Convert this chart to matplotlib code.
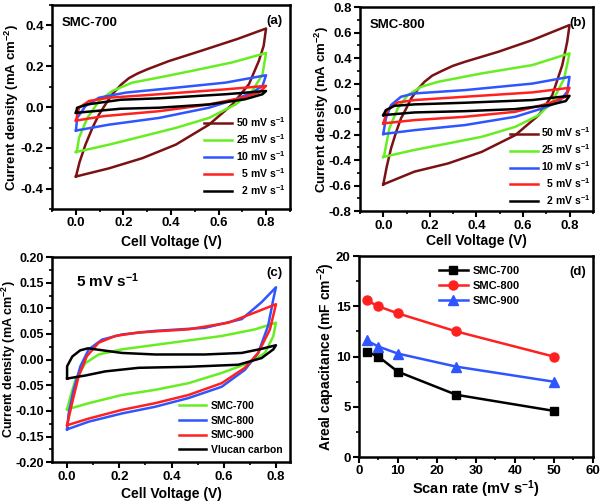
import matplotlib
matplotlib.use("Agg")
import matplotlib.pyplot as plt
from matplotlib.ticker import MultipleLocator, FormatStrFormatter

#%% Data
# (a) SMC-700, CV loops at different scan rates (V, mA cm-2)
a50_v = [0.0, 0.015, 0.04, 0.07, 0.097, 0.125, 0.153, 0.19, 0.223, 0.26, 0.30, 0.39, 0.53, 0.68, 0.80,
         0.79, 0.77, 0.728, 0.658, 0.56, 0.42, 0.28, 0.139, 0.0]
a50_i = [-0.34, -0.27, -0.184, -0.10, -0.036, 0.015, 0.063, 0.11, 0.142, 0.165, 0.185, 0.225, 0.277, 0.334, 0.385,
         0.30, 0.227, 0.112, 0.013, -0.086, -0.184, -0.25, -0.30, -0.34]
a25_v = [0.0, 0.005, 0.013, 0.048, 0.097, 0.153, 0.237, 0.35, 0.49, 0.658, 0.80, 0.785, 0.742, 0.672, 0.56, 0.42, 0.28, 0.139, 0.0]
a25_i = [-0.22, -0.21, -0.15, -0.053, 0.03, 0.079, 0.12, 0.145, 0.178, 0.219, 0.265, 0.16, 0.079, 0.013, -0.053, -0.102, -0.143, -0.184, -0.22]
a10_v = [0.0, 0.005, 0.04, 0.097, 0.21, 0.42, 0.63, 0.80, 0.785, 0.742, 0.672, 0.56, 0.35, 0.139, 0.0]
a10_i = [-0.115, -0.053, 0.005, 0.046, 0.071, 0.095, 0.12, 0.156, 0.104, 0.071, 0.038, -0.003, -0.053, -0.086, -0.115]
a5_v = [0.0, 0.013, 0.055, 0.139, 0.35, 0.63, 0.80, 0.77, 0.70, 0.56, 0.35, 0.118, 0.0]
a5_i = [-0.066, -0.003, 0.03, 0.046, 0.063, 0.087, 0.104, 0.071, 0.046, 0.013, -0.02, -0.044, -0.066]
a2_v = [0.0, 0.005, 0.048, 0.188, 0.35, 0.63, 0.80, 0.785, 0.71, 0.56, 0.35, 0.188, 0.0]
a2_i = [-0.028, -0.003, 0.013, 0.036, 0.043, 0.063, 0.079, 0.063, 0.038, 0.013, -0.003, -0.008, -0.028]

# (b) SMC-800
b50_v = [0.0, 0.015, 0.033, 0.055, 0.076, 0.10, 0.12, 0.15, 0.177, 0.21, 0.25, 0.30, 0.351, 0.495, 0.64, 0.80,
         0.79, 0.769, 0.726, 0.668, 0.567, 0.423, 0.278, 0.134, 0.0]
b50_i = [-0.59, -0.45, -0.31, -0.18, -0.073, 0.01, 0.084, 0.16, 0.214, 0.262, 0.298, 0.34, 0.371, 0.45, 0.541, 0.659,
         0.528, 0.345, 0.11, -0.047, -0.204, -0.335, -0.426, -0.49, -0.59]
b25_v = [0.0, 0.004, 0.026, 0.062, 0.105, 0.163, 0.235, 0.423, 0.64, 0.80, 0.777, 0.726, 0.668, 0.567, 0.423, 0.278, 0.134, 0.0]
b25_i = [-0.375, -0.36, -0.151, 0.005, 0.11, 0.175, 0.214, 0.28, 0.345, 0.437, 0.24, 0.057, -0.047, -0.139, -0.217, -0.269, -0.32, -0.375]
b10_v = [0.0, 0.011, 0.033, 0.076, 0.134, 0.351, 0.64, 0.80, 0.79, 0.755, 0.682, 0.567, 0.351, 0.134, 0.0]
b10_i = [-0.195, -0.073, 0.031, 0.097, 0.123, 0.149, 0.2, 0.253, 0.136, 0.057, 0.005, -0.06, -0.125, -0.165, -0.195]
b5_v = [0.0, 0.018, 0.062, 0.134, 0.351, 0.64, 0.80, 0.784, 0.711, 0.567, 0.351, 0.134, 0.0]
b5_i = [-0.112, -0.008, 0.052, 0.071, 0.097, 0.131, 0.167, 0.097, 0.045, -0.021, -0.06, -0.086, -0.112]
b2_v = [0.0, 0.011, 0.048, 0.134, 0.351, 0.64, 0.80, 0.784, 0.711, 0.567, 0.351, 0.134, 0.0]
b2_i = [-0.047, -0.008, 0.026, 0.037, 0.05, 0.071, 0.104, 0.063, 0.031, 0.0, -0.016, -0.026, -0.047]

# (c) 5 mV s-1 comparison
c700_v = [0.0, 0.013, 0.032, 0.07, 0.121, 0.21, 0.401, 0.592, 0.72, 0.80, 0.79, 0.758, 0.694, 0.592, 0.465, 0.337, 0.21, 0.083, 0.0]
c700_i = [-0.097, -0.072, -0.039, -0.007, 0.01, 0.02, 0.033, 0.046, 0.059, 0.072, 0.046, 0.013, -0.007, -0.026, -0.046, -0.059, -0.069, -0.085, -0.097]
c800_v = [0.0, 0.006, 0.025, 0.051, 0.083, 0.134, 0.21, 0.337, 0.528, 0.669, 0.745, 0.80, 0.79, 0.77, 0.732, 0.681, 0.592, 0.465, 0.337, 0.21, 0.083, 0.0]
c800_i = [-0.136, -0.105, -0.059, -0.013, 0.02, 0.039, 0.049, 0.056, 0.062, 0.079, 0.112, 0.141, 0.118, 0.066, 0.013, -0.02, -0.053, -0.075, -0.092, -0.105, -0.121, -0.136]
c900_v = [0.0, 0.019, 0.044, 0.076, 0.121, 0.184, 0.274, 0.465, 0.618, 0.72, 0.80, 0.777, 0.732, 0.681, 0.592, 0.465, 0.337, 0.21, 0.083, 0.0]
c900_i = [-0.128, -0.085, -0.033, 0.007, 0.033, 0.046, 0.053, 0.059, 0.072, 0.092, 0.108, 0.059, 0.013, -0.016, -0.046, -0.069, -0.085, -0.098, -0.115, -0.128]
cvx_v = [0.0, 0.0, 0.02, 0.05, 0.08, 0.21, 0.337, 0.528, 0.669, 0.745, 0.80, 0.79, 0.745, 0.656, 0.465, 0.274, 0.146, 0.07, 0.0]
cvx_i = [-0.037, -0.013, 0.006, 0.018, 0.022, 0.013, 0.01, 0.01, 0.013, 0.021, 0.028, 0.02, 0.003, -0.01, -0.014, -0.016, -0.023, -0.031, -0.037]

# (d) areal capacitance vs scan rate
scan_rate = [2, 5, 10, 25, 50]
cap_700 = [10.5, 10.0, 8.5, 6.2, 4.6]
cap_800 = [15.6, 15.0, 14.3, 12.5, 10.0]
cap_900 = [11.6, 11.0, 10.3, 9.0, 7.5]

rate_labels = ['50 mV s$^{-1}$', '25 mV s$^{-1}$', '10 mV s$^{-1}$', '  5 mV s$^{-1}$', '  2 mV s$^{-1}$']
colors = ['#7a1214', '#66ee22', '#2f55ff', '#ff2020', '#000000']

#%% Style
plt.rcParams['font.family'] = ['Liberation Sans', 'DejaVu Sans']
plt.rcParams['font.weight'] = 'bold'
plt.rcParams['axes.labelweight'] = 'bold'
plt.rcParams['mathtext.fontset'] = 'custom'
plt.rcParams['mathtext.rm'] = 'Liberation Sans:bold'
plt.rcParams['mathtext.it'] = 'Liberation Sans:bold'
plt.rcParams['mathtext.bf'] = 'Liberation Sans:bold'
plt.rcParams['mathtext.default'] = 'rm'
plt.rcParams['axes.linewidth'] = 1.8


def style_axis(ax, xmaj, xmin, ymaj, ymin, yfmt):
    ax.xaxis.set_major_locator(MultipleLocator(xmaj))
    ax.xaxis.set_minor_locator(MultipleLocator(xmin))
    ax.yaxis.set_major_locator(MultipleLocator(ymaj))
    ax.yaxis.set_minor_locator(MultipleLocator(ymin))
    ax.yaxis.set_major_formatter(FormatStrFormatter(yfmt))
    ax.tick_params(which='major', direction='out', length=4, width=1.5, labelsize=9.5, pad=2)
    ax.tick_params(which='minor', direction='out', length=2.5, width=1.2)


def rate_legend(ax, anchor):
    ax.legend(loc='lower right', bbox_to_anchor=anchor, frameon=False, fontsize=7.5,
              handlelength=2.7, labelspacing=0.3, borderaxespad=0, handletextpad=0.35)


fig = plt.figure(figsize=(6.0, 5.04), dpi=100)
ax_a = fig.add_axes([0.087, 0.585, 0.396, 0.405])
ax_b = fig.add_axes([0.600, 0.581, 0.388, 0.405])
ax_c = fig.add_axes([0.087, 0.083, 0.396, 0.407])
ax_d = fig.add_axes([0.598, 0.093, 0.390, 0.399])

#%% (a)
for v, i, c, lab in zip([a50_v, a25_v, a10_v, a5_v, a2_v], [a50_i, a25_i, a10_i, a5_i, a2_i], colors, rate_labels):
    ax_a.plot(v, i, color=c, lw=1.8, label=lab, solid_joinstyle='round')
ax_a.set_xlim(-0.1, 0.9)
ax_a.set_ylim(-0.5, 0.5)
style_axis(ax_a, 0.2, 0.1, 0.2, 0.1, '%.1f')
ax_a.set_xlabel('Cell Voltage (V)', fontsize=10, labelpad=4)
ax_a.set_ylabel('Current density (mA cm$^{-2}$)', fontsize=9.5)
ax_a.yaxis.set_label_coords(-0.13, 0.5)
ax_a.text(0.04, 0.94, 'SMC-700', transform=ax_a.transAxes, fontsize=9.5, va='top')
ax_a.text(0.97, 0.95, '(a)', transform=ax_a.transAxes, fontsize=9.5, va='top', ha='right')
rate_legend(ax_a, (1.0, 0.04))

#%% (b)
for v, i, c, lab in zip([b50_v, b25_v, b10_v, b5_v, b2_v], [b50_i, b25_i, b10_i, b5_i, b2_i], colors, rate_labels):
    ax_b.plot(v, i, color=c, lw=1.8, label=lab, solid_joinstyle='round')
ax_b.set_xlim(-0.1, 0.9)
ax_b.set_ylim(-0.8, 0.8)
style_axis(ax_b, 0.2, 0.1, 0.2, 0.1, '%.1f')
ax_b.set_xlabel('Cell Voltage (V)', fontsize=10, labelpad=2)
ax_b.set_ylabel('Current density (mA cm$^{-2}$)', fontsize=9.5)
ax_b.yaxis.set_label_coords(-0.125, 0.5)
ax_b.text(0.04, 0.94, 'SMC-800', transform=ax_b.transAxes, fontsize=9.5, va='top')
ax_b.text(0.97, 0.95, '(b)', transform=ax_b.transAxes, fontsize=9.5, va='top', ha='right')
rate_legend(ax_b, (1.01, 0.0))

#%% (c)
ax_c.plot(c700_v, c700_i, color='#66ee22', lw=1.8, label='SMC-700')
ax_c.plot(c800_v, c800_i, color='#2f55ff', lw=1.8, label='SMC-800')
ax_c.plot(c900_v, c900_i, color='#ff2020', lw=1.8, label='SMC-900')
ax_c.plot(cvx_v, cvx_i, color='#000000', lw=1.8, label='Vlucan carbon')
ax_c.set_xlim(-0.057, 0.853)
ax_c.set_ylim(-0.2, 0.2)
style_axis(ax_c, 0.2, 0.1, 0.05, 0.025, '%.2f')
ax_c.tick_params(axis='y', which='major', labelsize=9)
ax_c.set_xlabel('Cell Voltage (V)', fontsize=10, labelpad=3)
ax_c.set_ylabel('Current density (mA cm$^{-2}$)', fontsize=9)
ax_c.yaxis.set_label_coords(-0.145, 0.5)
ax_c.text(0.1, 0.93, '5 mV s$^{-1}$', transform=ax_c.transAxes, fontsize=11, va='top')
ax_c.text(0.97, 0.95, '(c)', transform=ax_c.transAxes, fontsize=9.5, va='top', ha='right')
ax_c.legend(loc='lower right', frameon=False, fontsize=7.5, handlelength=2.6,
            labelspacing=0.45, borderaxespad=0.3, handletextpad=0.5)

#%% (d)
ax_d.plot(scan_rate, cap_700, color='#000000', marker='s', ms=6, lw=1.8, label='SMC-700')
ax_d.plot(scan_rate, cap_800, color='#ff2020', marker='o', ms=6.5, lw=1.8, label='SMC-800')
ax_d.plot(scan_rate, cap_900, color='#2f55ff', marker='^', ms=6.5, lw=1.8, label='SMC-900')
ax_d.set_xlim(0, 60)
ax_d.set_ylim(0, 20)
style_axis(ax_d, 10, 5, 5, 2.5, '%d')
ax_d.set_xlabel('Scan rate (mV s$^{-1}$)', fontsize=10.5, labelpad=1)
ax_d.set_ylabel('Areal capacitance (mF cm$^{-2}$)', fontsize=10)
ax_d.yaxis.set_label_coords(-0.095, 0.5)
ax_d.text(0.97, 0.95, '(d)', transform=ax_d.transAxes, fontsize=9.5, va='top', ha='right')
ax_d.legend(loc='upper left', bbox_to_anchor=(0.3, 1.0), frameon=False, fontsize=8,
            handlelength=2.6, labelspacing=0.45, handletextpad=0.4)

fig.savefig('out.png', dpi=100)
